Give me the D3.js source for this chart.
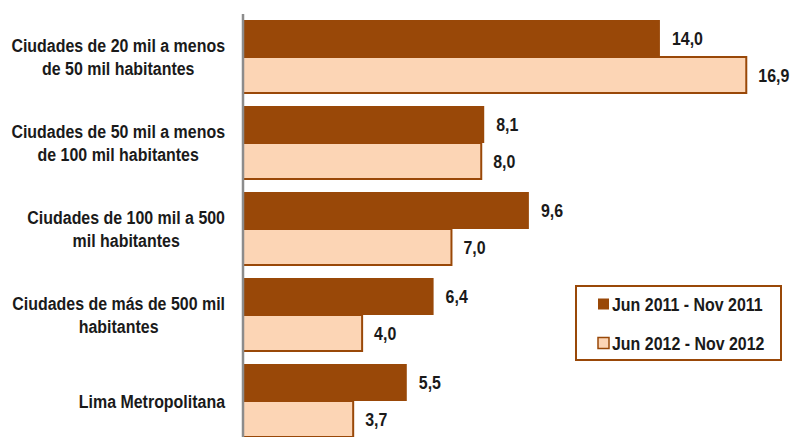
<!DOCTYPE html>
<html><head><meta charset="utf-8">
<script src="https://cdn.jsdelivr.net/npm/d3@7"></script>
<style>body{margin:0;background:#fff}svg{display:block}text{font-family:"Liberation Sans",Arial,sans-serif;font-weight:bold;fill:#1a1a1a}</style>
</head><body>
<svg id="c" width="790" height="437"></svg>
<script>
const categories = [
  ["Ciudades de 20 mil a menos","de 50 mil habitantes"],
  ["Ciudades de 50 mil a menos","de 100 mil habitantes"],
  ["Ciudades de 100 mil a 500","mil habitantes"],
  ["Ciudades de más de 500 mil","habitantes"],
  ["Lima Metropolitana"]
];
const series2011 = [14.0, 8.1, 9.6, 6.4, 5.5];
const series2012 = [16.9, 8.0, 7.0, 4.0, 3.7];
const seriesNames = ["Jun 2011 - Nov 2011", "Jun 2012 - Nov 2012"];

const dark = "#994808", light = "#fcd5b5";
const SX = 0.84, FS = 19;
const svg = d3.select("#c");
const x = d3.scaleLinear().domain([0, 18]).range([243, 243 + 29.78 * 18]);
const y = d3.scaleBand().domain(d3.range(categories.length)).range([14, 444]).paddingInner(12/86).paddingOuter(6/86);
const fmt = v => d3.format(".1f")(v).replace(".", ",");

function label(parent, tx, ty, str, anchor) {
  return parent.append("text").attr("transform", `translate(${tx},${ty}) scale(${SX},1)`)
    .attr("text-anchor", anchor || "start").attr("dy", "0.35em").attr("font-size", FS).text(str);
}

const g = svg.append("g");
const labelRight = 225;
categories.forEach((c, i) => {
  const y0 = y(i), h = y.bandwidth() / 2;
  g.append("rect").attr("x", x(0)).attr("y", y0).attr("width", x(series2011[i]) - x(0)).attr("height", h)
    .attr("fill", dark);
  g.append("rect").attr("x", x(0)).attr("y", y0 + h).attr("width", x(series2012[i]) - x(0)).attr("height", h - 1)
    .attr("fill", light).attr("stroke", dark).attr("stroke-width", 2);
  label(g, x(series2011[i]) + 12, y0 + h / 2, fmt(series2011[i]));
  label(g, x(series2012[i]) + 12, y0 + h * 1.5, fmt(series2012[i]));
  const cy = y0 + y.bandwidth() / 2;
  const lh = 22.5;
  const texts = c.map((line, j) => label(g, 0, cy + (j - (c.length - 1) / 2) * lh, line, "middle"));
  const maxW = d3.max(texts, t => t.node().getComputedTextLength() * SX);
  const cx = labelRight - maxW / 2;
  texts.forEach((t, j) => t.attr("transform", `translate(${cx},${cy + (j - (c.length - 1) / 2) * lh}) scale(${SX},1)`));
});

svg.append("line").attr("x1", x(0)).attr("x2", x(0)).attr("y1", 14).attr("y2", 437)
  .attr("stroke", "#8c8c8c").attr("stroke-width", 2.5);

const lg = svg.append("g");
lg.append("rect").attr("x", 576).attr("y", 286).attr("width", 205).attr("height", 74)
  .attr("fill", "#fff").attr("stroke", dark).attr("stroke-width", 2);
seriesNames.forEach((n, i) => {
  const cy = 304 + i * 39;
  lg.append("rect").attr("x", 598).attr("y", cy - 5.5).attr("width", 11).attr("height", 11)
    .attr("fill", i === 0 ? dark : light).attr("stroke", dark).attr("stroke-width", i === 0 ? 0 : 1.5);
  label(lg, 612, cy, n);
});
</script>
</body></html>
